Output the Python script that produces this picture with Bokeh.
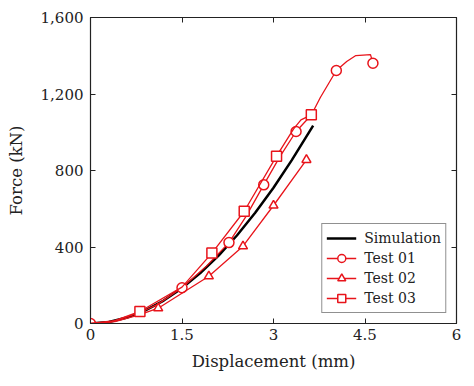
from bokeh.plotting import figure
from bokeh.models import LinearAxis, FixedTicker, Legend, LegendItem
from bokeh.embed import file_html
from bokeh.resources import INLINE

# ---- data ----
sim_x = [0, 0.3, 0.6, 0.9, 1.2, 1.5, 1.8, 2.1, 2.4, 2.7, 3.0, 3.3, 3.65]
sim_y = [0, 8, 31, 69, 120, 185, 264, 355, 460, 579, 710, 854, 1035]

t1_x = [0, 0.3, 0.8, 1.1, 1.5, 1.9, 2.27, 2.55, 2.84, 3.1, 3.37, 3.62, 3.77, 4.03, 4.2, 4.35, 4.59, 4.63]
t1_y = [0, 5, 55, 100, 187, 300, 423, 560, 725, 870, 1004, 1090, 1183, 1323, 1370, 1401, 1406, 1361]
t1_mark = [0, 4, 6, 8, 10, 13, 17]

t2_x = [0, 0.4, 0.8, 1.11, 1.94, 2.5, 3.0, 3.54]
t2_y = [0, 10, 45, 80, 247, 404, 617, 856]
t2_mark = [3, 4, 5, 6, 7]

t3_x = [0, 0.4, 0.81, 1.5, 1.99, 2.52, 3.05, 3.33, 3.45, 3.62]
t3_y = [0, 15, 63, 190, 368, 587, 875, 1018, 1065, 1091]
t3_mark = [2, 4, 5, 6, 9]

x_ticks = [0, 1.5, 3, 4.5, 6]
x_tick_labels = ["0", "1.5", "3", "4.5", "6"]
y_ticks = [0, 400, 800, 1200, 1600]
y_tick_labels = ["0", "400", "800", "1,200", "1,600"]

FONT = "'DejaVu Serif'"
RED = "#e8141b"
INK = "#222222"

p = figure(width=466, height=378, x_range=(0, 6), y_range=(0, 1600),
           output_backend="svg", toolbar_location=None,
           min_border_left=90, min_border_right=10, min_border_top=17, min_border_bottom=55)
p.xgrid.visible = False
p.ygrid.visible = False
p.outline_line_color = INK
p.outline_line_width = 1.2
p.background_fill_color = "white"
p.border_fill_color = "white"

def style_axis(ax, ticks, labels, show_labels=True):
    ax.ticker = FixedTicker(ticks=ticks)
    ax.minor_tick_line_color = None
    ax.major_tick_in = 5
    ax.major_tick_out = 0
    ax.major_tick_line_color = INK
    ax.axis_line_color = INK
    ax.major_label_text_font = FONT
    ax.axis_label_text_font = FONT
    ax.axis_label_text_font_style = "normal"
    ax.major_label_text_color = INK
    ax.axis_label_text_color = INK
    if show_labels:
        ax.major_label_overrides = {t: l for t, l in zip(ticks, labels)}
        ax.major_label_text_font_size = "15px"
        ax.axis_label_text_font_size = "16.5px"
    else:
        ax.major_label_overrides = {t: "" for t in ticks}
        ax.major_label_standoff = 0

style_axis(p.xaxis[0], x_ticks, x_tick_labels)
style_axis(p.yaxis[0], y_ticks, y_tick_labels)
p.xaxis[0].axis_label = "Displacement (mm)"
p.yaxis[0].axis_label = "Force (kN)"
p.xaxis[0].major_label_standoff = 5
p.xaxis[0].axis_label_standoff = 9
p.yaxis[0].major_label_standoff = 7
p.yaxis[0].axis_label_standoff = 12

top = LinearAxis()
style_axis(top, x_ticks, x_tick_labels, show_labels=False)
p.add_layout(top, "above")
right = LinearAxis()
style_axis(right, y_ticks, y_tick_labels, show_labels=False)
p.add_layout(right, "right")

sim = p.line(sim_x, sim_y, line_color="black", line_width=2.5)

def series(xs, ys, idx, marker, size):
    ln = p.line(xs, ys, line_color=RED, line_width=1.3)
    mk = p.scatter([xs[i] for i in idx], [ys[i] for i in idx], marker=marker, size=size,
                   line_color=RED, fill_color="white", line_width=1.5)
    return ln, mk

l1, m1 = series(t1_x, t1_y, t1_mark, "circle", 10)
l2, m2 = series(t2_x, t2_y, t2_mark, "triangle", 9)
l3, m3 = series(t3_x, t3_y, t3_mark, "square", 10)

legend = Legend(items=[
    LegendItem(label="Simulation", renderers=[sim]),
    LegendItem(label="Test 01", renderers=[l1, m1]),
    LegendItem(label="Test 02", renderers=[l2, m2]),
    LegendItem(label="Test 03", renderers=[l3, m3]),
], location="bottom_right")
legend.label_text_font = FONT
legend.label_text_font_size = "14px"
legend.label_text_color = INK
legend.border_line_color = INK
legend.border_line_width = 1.2
legend.margin = 10
legend.padding = 4
legend.spacing = 0
legend.label_height = 20
legend.glyph_height = 20
legend.glyph_width = 30
legend.label_standoff = 8
p.add_layout(legend, "center")

open("out.html", "w").write(file_html(p, INLINE))
